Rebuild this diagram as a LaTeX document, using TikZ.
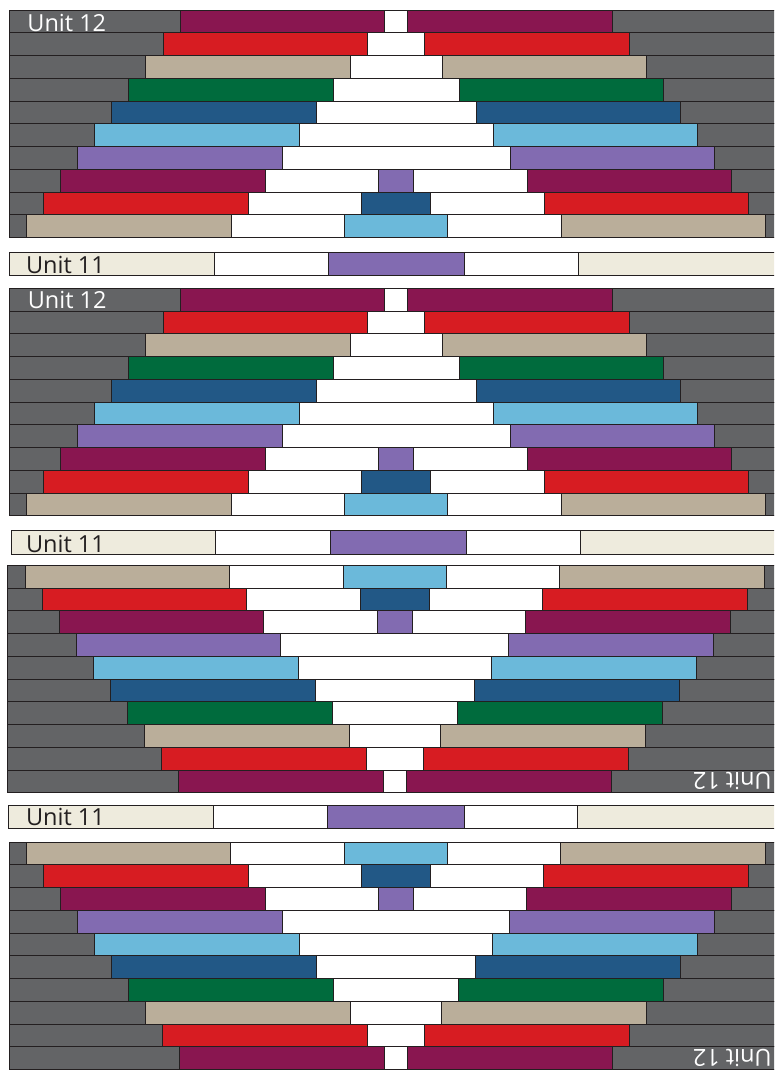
\documentclass[tikz,border=0pt]{standalone}
\usepackage{fontspec}
\setmainfont{Open Sans}
\definecolor{qgray}{HTML}{636466}
\definecolor{qmag}{HTML}{891650}
\definecolor{qred}{HTML}{D71C22}
\definecolor{qtan}{HTML}{BAAE9A}
\definecolor{qgreen}{HTML}{006B3D}
\definecolor{qdblue}{HTML}{225886}
\definecolor{qlblue}{HTML}{6BB9DA}
\definecolor{qpurple}{HTML}{826BB1}
\definecolor{qcream}{HTML}{EEEBDD}
\definecolor{qline}{HTML}{231F20}
\tikzset{
  piece/.style={draw=qline, line width=0.9pt},
  lbl/.style={inner sep=0pt, anchor=center, font=\fontsize{23.5}{24}\selectfont},
}
% #1 top y, #2 x offset, #3 flip (0/1)
\newcommand\qblock[3]{%
  \foreach \i/\col/\cen in {0/qmag/white,1/qred/white,2/qtan/white,3/qgreen/white,4/qdblue/white,5/qlblue/white,6/qpurple/white,7/qmag/qpurple,8/qred/qdblue,9/qtan/qlblue}{%
    \ifnum#3=1 \pgfmathsetmacro\qr{9-\i}\else\pgfmathsetmacro\qr{\i}\fi
    \pgfmathsetmacro\yt{#1+\qr*22.75}%
    \pgfmathsetmacro\yb{\yt+22.75}%
    \pgfmathsetmacro\xl{9.3+#2}%
    \pgfmathsetmacro\xa{180-17.03*\i+#2}%
    \pgfmathsetmacro\xb{\xa+204.5}%
    \pgfmathsetmacro\xbb{2*(396.2+#2)-\xb}%
    \pgfmathsetmacro\xaa{\xbb+204.5}%
    \filldraw[piece, fill=qgray] (\xl,\yt) rectangle (\xa,\yb);
    \filldraw[piece, fill=\col] (\xa,\yt) rectangle (\xb,\yb);
    \ifnum\i<7
      \filldraw[piece, fill=white] (\xb,\yt) rectangle (\xbb,\yb);
    \else
      \pgfmathsetmacro\xc{\xb+113.5}%
      \pgfmathsetmacro\xcc{\xbb-113.5}%
      \filldraw[piece, fill=white] (\xb,\yt) rectangle (\xc,\yb);
      \filldraw[piece, fill=\cen] (\xc,\yt) rectangle (\xcc,\yb);
      \filldraw[piece, fill=white] (\xcc,\yt) rectangle (\xbb,\yb);
    \fi
    \filldraw[piece, fill=\col] (\xbb,\yt) rectangle (\xaa,\yb);
    \filldraw[piece, fill=qgray] (\xaa,\yt) rectangle (800,\yb);
  }%
}
% #1 top y, #2 bottom y, #3 x offset
\newcommand\qstrip[3]{%
  \filldraw[piece, fill=qcream] (9.3+#3,#1) rectangle (214+#3,#2);
  \filldraw[piece, fill=white] (214+#3,#1) rectangle (328.3+#3,#2);
  \filldraw[piece, fill=qpurple] (328.3+#3,#1) rectangle (464.7+#3,#2);
  \filldraw[piece, fill=white] (464.7+#3,#1) rectangle (578.3+#3,#2);
  \filldraw[piece, fill=qcream] (578.3+#3,#1) rectangle (800,#2);
}
\begin{document}
\begin{tikzpicture}[x=1pt,y=-1pt]
\useasboundingbox (0,0) rectangle (774,1070);
\clip (0,0) rectangle (774,1070);
% block A
\qblock{10}{0}{0}
\qstrip{252}{275}{0}
% block B
\qblock{288.3}{0}{0}
\qstrip{530.7}{554.3}{1.7}
% block C (rotated)
\qblock{565.3}{-1.4}{1}
\qstrip{805.7}{828.3}{-0.4}
% block D (rotated)
\qblock{842}{-0.3}{1}
% labels
\node[lbl, text=white] (a12) at (66.8,23.2) {Unit 12};
\node[lbl, text=qline] (a11) at (65.5,265) {Unit 11};
\node[lbl, text=white] (b12) at (67.2,299.5) {Unit 12};
\node[lbl, text=qline] (b11) at (65.5,543.5) {Unit 11};
\node[lbl, text=white, rotate=180] (c12) at (732.3,781.2) {Unit 12};
\node[lbl, text=qline] (c11) at (65.5,817.2) {Unit 11};
\node[lbl, text=white, rotate=180] (d12) at (732.3,1057.5) {Unit 12};
\end{tikzpicture}
\end{document}
